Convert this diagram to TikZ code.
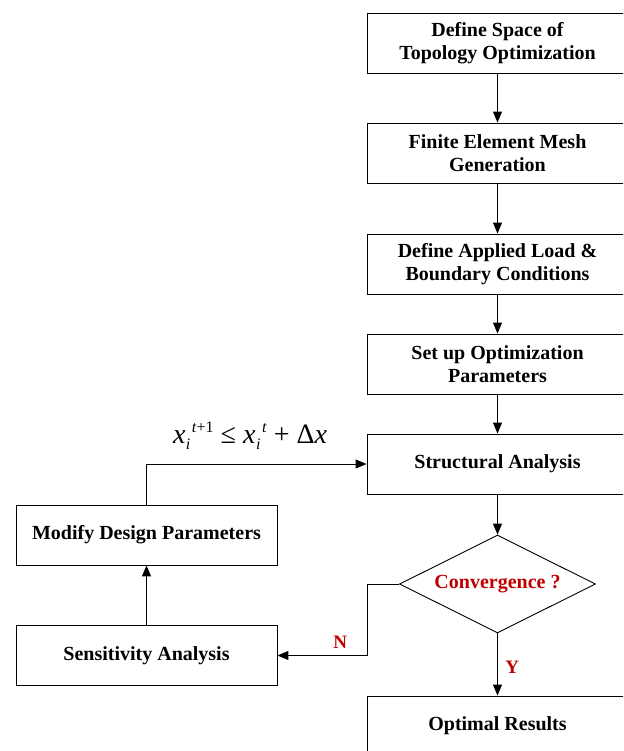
\documentclass[tikz,border=0pt]{standalone}
\usepackage{fontspec}
\setmainfont{Liberation Serif}
\usetikzlibrary{arrows.meta,shapes.geometric}
\definecolor{darkred}{RGB}{192,0,0}
\newcommand{\xsubsup}[2]{\textit{x}\kern0.5pt\rlap{\raisebox{-6pt}{\fontsize{16}{16}\selectfont\textit{#1}}}\kern6pt\raisebox{11pt}{\fontsize{16}{16}\selectfont #2}}
\begin{document}
\begin{tikzpicture}[x=1pt,y=-1pt,
  box/.style={draw=black,line width=0.9pt,minimum width=261pt,minimum height=60pt,
    inner sep=0pt,align=center,font=\fontsize{20}{23}\selectfont\bfseries},
  decision/.style={draw=black,line width=0.9pt,shape=diamond,aspect=2,
    minimum width=196pt,minimum height=98pt,inner sep=0pt,
    font=\fontsize{20}{23}\selectfont\bfseries,text=darkred},
  flow/.style={line width=1pt,-{Triangle[length=11pt,width=9pt]}},
  tag/.style={font=\fontsize{19}{23}\selectfont\bfseries,text=darkred}]
\useasboundingbox (0,0) rectangle (623,751);
\clip (0,0) rectangle (623,751);
\fill[white] (0,0) rectangle (623,751);

% main column
\node[box] (space)  at (497.5,43)  {Define Space of\\Topology Optimization};
\node[box] (mesh)   at (497.5,153) {Finite Element Mesh\\Generation};
\node[box] (load)   at (497.5,264) {Define Applied Load \&\\Boundary Conditions};
\node[box] (params) at (497.5,364) {Set up Optimization\\Parameters};
\node[box] (fea)    at (497.5,464) {Structural Analysis};
\node[decision] (conv) at (497.5,584) {Convergence ?};
\node[box] (result) at (497.5,726) {Optimal Results};

% loop column
\node[box] (modify) at (146.5,535) {Modify Design Parameters};
\node[box] (sens)   at (146.5,655.5) {Sensitivity Analysis};

% connectors
\draw[flow] (space) -- (mesh);
\draw[flow] (mesh) -- (load);
\draw[flow] (load) -- (params);
\draw[flow] (params) -- (fea);
\draw[flow] (fea) -- (conv);
\draw[flow] (conv) -- node[tag,right,pos=0.55,xshift=4pt] {Y} (result);
\draw[flow] (conv.west) -| (367,655.5) -- node[tag,above,pos=0.3,yshift=3pt] {N} (sens.east);
\draw[flow] (sens) -- (modify);
\draw[flow] (modify.north) |- (fea.west);

% update rule
\node[font=\fontsize{28}{32}\selectfont] (rule) at (250,436)
  {\xsubsup{i}{\textit{t}+1} ≤ \xsubsup{i}{\textit{t}} + Δ\textit{x}};
\end{tikzpicture}
\end{document}
